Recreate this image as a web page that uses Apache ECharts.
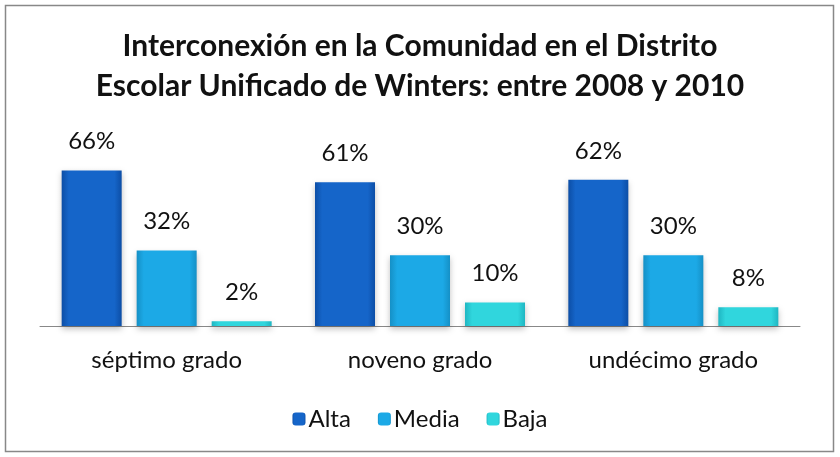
<!DOCTYPE html>
<html>
<head>
<meta charset="utf-8">
<script src="https://cdn.jsdelivr.net/npm/echarts@6/dist/echarts.min.js"></script>
<style>
html,body{margin:0;padding:0;background:#fff;}
#chart{width:840px;height:457px;}
</style>
</head>
<body>
<div id="chart"></div>
<script>
var categories = ['séptimo grado', 'noveno grado', 'undécimo grado'];
var alta = [66, 61, 62];
var media = [32, 30, 30];
var baja = [2, 10, 8];
var seriesNames = ['Alta', 'Media', 'Baja'];
var titleText = 'Interconexión en la Comunidad en el Distrito\nEscolar Unificado de Winters: entre 2008 y 2010';

var FONT = 'Lato';
function grad(edge, mid) {
  return new echarts.graphic.LinearGradient(0, 0, 1, 0, [
    {offset: 0, color: edge},
    {offset: 0.12, color: mid},
    {offset: 0.88, color: mid},
    {offset: 1, color: edge}
  ]);
}
var colors = [
  grad('#0c4ea6', '#1565c9'),
  grad('#1590c6', '#1ca9e6'),
  grad('#1fb6c2', '#30d6dd')
];

function mk(name, data, i) {
  return {
    name: name,
    type: 'bar',
    data: data,
    barWidth: 60,
    barGap: '25%',
    itemStyle: {
      color: colors[i],
      shadowColor: 'rgba(0,0,0,0.25)',
      shadowBlur: 6,
      shadowOffsetY: 3
    },
    label: {
      show: true,
      position: 'top',
      distance: 17,
      formatter: '{c}%',
      fontFamily: FONT,
      fontSize: 24,
      color: '#111'
    }
  };
}

var chart = echarts.init(document.getElementById('chart'));
chart.setOption({
  animation: false,
  backgroundColor: '#fff',
  title: {
    text: titleText,
    left: 'center',
    top: 21,
    textStyle: {
      fontFamily: FONT,
      fontWeight: 'bold',
      fontSize: 30,
      lineHeight: 40,
      color: '#111'
    }
  },
  legend: {
    data: seriesNames,
    top: 402,
    left: 'center',
    itemWidth: 13,
    itemHeight: 13,
    itemGap: 27,
    textStyle: {fontFamily: FONT, fontSize: 24, color: '#111', padding: [0, 0, 0, -2]}
  },
  grid: {left: 40, right: 40, top: 161, bottom: 131},
  xAxis: {
    type: 'category',
    data: categories,
    axisLine: {lineStyle: {color: '#888', width: 1}},
    axisTick: {show: false},
    axisLabel: {fontFamily: FONT, fontSize: 24, color: '#111', margin: 22}
  },
  yAxis: {
    type: 'value',
    min: 0,
    max: 70,
    show: false,
    splitLine: {show: false}
  },
  series: [mk(seriesNames[0], alta, 0), mk(seriesNames[1], media, 1), mk(seriesNames[2], baja, 2)],
  graphic: [{
    type: 'rect',
    shape: {x: 5.5, y: 5.5, width: 828, height: 446},
    style: {fill: 'none', stroke: '#888', lineWidth: 1.5},
    silent: true,
    z: -1
  }]
});
</script>
</body>
</html>
